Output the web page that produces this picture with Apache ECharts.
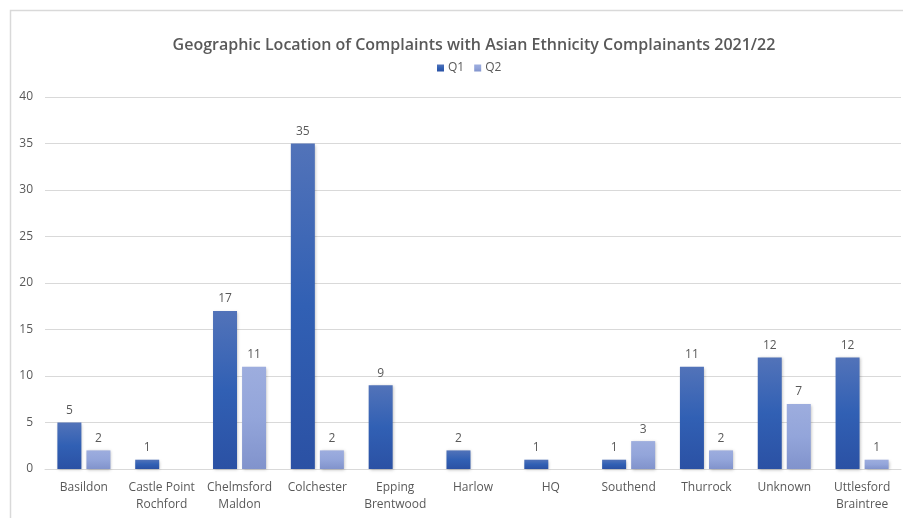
<!DOCTYPE html>
<html>
<head>
<meta charset="utf-8">
<script src="https://cdn.jsdelivr.net/npm/echarts@6/dist/echarts.min.js"></script>
<style>
  html, body { margin: 0; padding: 0; background: #ffffff; }
  #chart { width: 903px; height: 518px; }
</style>
</head>
<body>
<div id="chart"></div>
<script>
// Areas and complaint counts per quarter
const categories = ['Basildon', 'Castle Point\nRochford', 'Chelmsford\nMaldon', 'Colchester', 'Epping\nBrentwood',
  'Harlow', 'HQ', 'Southend', 'Thurrock', 'Unknown', 'Uttlesford\nBraintree'];
const q1 = [5, 1, 17, 35, 9, 2, 1, 1, 11, 12, 12];
const q2 = [2, null, 11, 2, null, null, null, 3, 2, 7, 1];
const yTicks = { min: 0, max: 40, interval: 5 };

const font = 'Open Sans, Liberation Sans, sans-serif';
const textColor = '#595959';

function grad(top, mid, bottom) {
  return new echarts.graphic.LinearGradient(0, 0, 0, 1, [
    { offset: 0, color: top },
    { offset: 0.5, color: mid },
    { offset: 1, color: bottom }
  ]);
}

const barLabel = {
  show: true, position: 'top', distance: 6,
  color: textColor, fontFamily: font, fontSize: 12
};

const chart = echarts.init(document.getElementById('chart'), null, { renderer: 'canvas' });
chart.setOption({
  backgroundColor: '#ffffff',
  animation: false,
  graphic: [{
    type: 'rect', left: 8, top: 8, silent: true,
    shape: { width: 920, height: 540 },
    style: { fill: 'none', stroke: '#d9d9d9', lineWidth: 1.5 }
  }],
  title: {
    text: 'Geographic Location of Complaints with Asian Ethnicity Complainants 2021/22',
    left: 469, top: 32, textAlign: 'center',
    textStyle: { color: textColor, fontFamily: font, fontSize: 16, fontWeight: 600 }
  },
  legend: {
    data: ['Q1', 'Q2'], left: 432, top: 57,
    icon: 'rect', itemWidth: 7, itemHeight: 7, itemGap: 10,
    textStyle: { color: textColor, fontFamily: font, fontSize: 12, padding: [0, 0, 0, -1] }
  },
  grid: { left: 45, right: 2, top: 97, bottom: 49, containLabel: false },
  xAxis: {
    type: 'category', data: categories,
    axisLine: { lineStyle: { color: '#d9d9d9', width: 1 } },
    axisTick: { show: false },
    axisLabel: { color: textColor, fontFamily: font, fontSize: 12, margin: 10, lineHeight: 17, interval: 0 }
  },
  yAxis: {
    type: 'value', min: yTicks.min, max: yTicks.max, interval: yTicks.interval,
    axisLine: { show: false }, axisTick: { show: false },
    splitLine: { lineStyle: { color: '#d9d9d9', width: 1 } },
    axisLabel: { color: textColor, fontFamily: font, fontSize: 12, margin: 12, align: 'right' }
  },
  series: [{
    name: 'Q1', type: 'bar', data: q1, barWidth: 24, barGap: '21%',
    itemStyle: {
      color: grad('#5273b9', '#3160b4', '#2b51a4'),
      shadowColor: 'rgba(0,0,0,0.25)', shadowBlur: 3, shadowOffsetX: 1, shadowOffsetY: 1
    },
    label: barLabel
  }, {
    name: 'Q2', type: 'bar', data: q2, barWidth: 24,
    itemStyle: {
      color: grad('#9dadde', '#93a5da', '#8193cc'),
      shadowColor: 'rgba(0,0,0,0.25)', shadowBlur: 3, shadowOffsetX: 1, shadowOffsetY: 1
    },
    label: barLabel
  }]
});
</script>
</body>
</html>
